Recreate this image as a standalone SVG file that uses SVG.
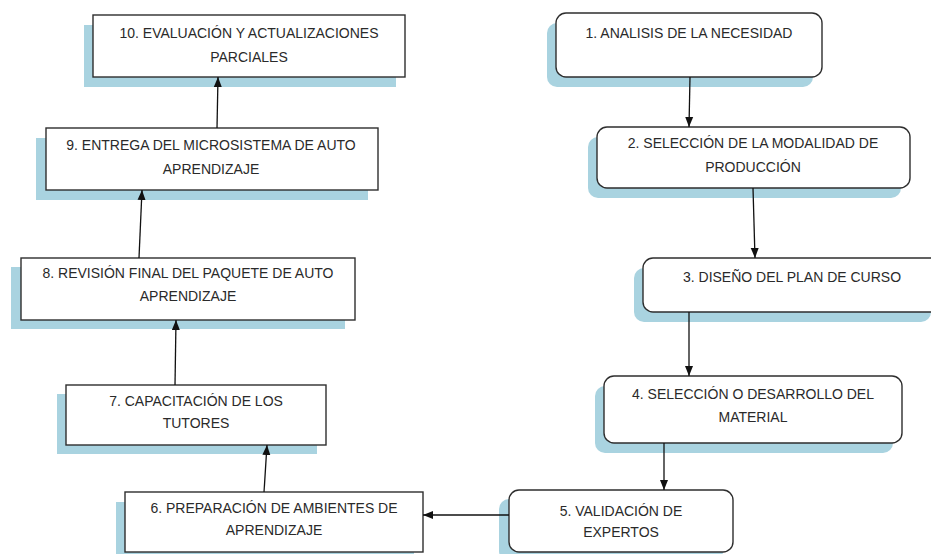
<svg xmlns="http://www.w3.org/2000/svg" width="931" height="554" viewBox="0 0 931 554">
<style>
.sh{fill:#a9d3e0;stroke:none}
.bx{fill:#fff;stroke:#2e2e2e;stroke-width:1.4}
.t{font-family:"Liberation Sans",Arial,sans-serif;font-size:14px;fill:#2a2a2a;text-anchor:middle}
.c{stroke:#111;stroke-width:1.3;fill:none;marker-end:url(#ah)}
</style>
<defs>
<marker id="ah" markerUnits="userSpaceOnUse" markerWidth="10" markerHeight="10" viewBox="0 0 10 10" refX="10" refY="5" orient="auto">
<path d="M0,1 L10,5 L0,9 Z" fill="#111"/>
</marker>
</defs>
<rect width="931" height="554" fill="#fff"/>
<g id="n10">
<rect class="sh" x="84" y="25" width="312" height="62"/>
<rect class="bx" x="93" y="15" width="312" height="62"/>
<text class="t" x="249" y="38">10. EVALUACIÓN Y ACTUALIZACIONES</text>
<text class="t" x="249" y="62">PARCIALES</text>
</g>
<g id="n9">
<rect class="sh" x="36" y="138" width="332" height="62"/>
<rect class="bx" x="46" y="128" width="332" height="62"/>
<text class="t" x="211" y="150">9. ENTREGA DEL MICROSISTEMA DE AUTO</text>
<text class="t" x="211" y="174">APRENDIZAJE</text>
</g>
<g id="n8">
<rect class="sh" x="11" y="267" width="334" height="62"/>
<rect class="bx" x="21" y="258" width="334" height="62"/>
<text class="t" x="188" y="278">8. REVISIÓN FINAL DEL PAQUETE DE AUTO</text>
<text class="t" x="188" y="301">APRENDIZAJE</text>
</g>
<g id="n7">
<rect class="sh" x="57" y="394" width="260" height="60"/>
<rect class="bx" x="66" y="385" width="260" height="60"/>
<text class="t" x="196" y="406">7. CAPACITACIÓN DE LOS</text>
<text class="t" x="196" y="428">TUTORES</text>
</g>
<g id="n6">
<rect class="sh" x="116" y="502" width="298" height="60"/>
<rect class="bx" x="125" y="492" width="298" height="60"/>
<text class="t" x="274" y="513">6. PREPARACIÓN DE AMBIENTES DE</text>
<text class="t" x="274" y="535">APRENDIZAJE</text>
</g>
<g id="n5">
<rect class="sh" x="499" y="499" width="224" height="62" rx="10"/>
<rect class="bx" x="509" y="490" width="224" height="62" rx="10"/>
<text class="t" x="621" y="516">5. VALIDACIÓN DE</text>
<text class="t" x="621" y="537">EXPERTOS</text>
</g>
<g id="n4">
<rect class="sh" x="595" y="386" width="298" height="67" rx="10"/>
<rect class="bx" x="604" y="376" width="298" height="67" rx="10"/>
<text class="t" x="753" y="399">4. SELECCIÓN O DESARROLLO DEL</text>
<text class="t" x="753" y="422">MATERIAL</text>
</g>
<g id="n3">
<rect class="sh" x="634" y="268" width="297" height="54" rx="10"/>
<rect class="bx" x="643" y="258" width="297" height="54" rx="10"/>
<text class="t" x="792" y="282">3. DISEÑO DEL PLAN DE CURSO</text>
</g>
<g id="n2">
<rect class="sh" x="588" y="137" width="313" height="61" rx="10"/>
<rect class="bx" x="597" y="127" width="313" height="61" rx="10"/>
<text class="t" x="753" y="148">2. SELECCIÓN DE LA MODALIDAD DE</text>
<text class="t" x="753" y="172">PRODUCCIÓN</text>
</g>
<g id="n1">
<rect class="sh" x="547" y="23" width="266" height="64" rx="10"/>
<rect class="bx" x="556" y="13" width="266" height="64" rx="10"/>
<text class="t" x="689" y="38">1. ANALISIS DE LA NECESIDAD</text>
</g>
<g id="connectors">
<path class="c" d="M690,77 L689,127"/>
<path class="c" d="M753,188 L755,258"/>
<path class="c" d="M689,312 L689,376"/>
<path class="c" d="M664,443 L664,490"/>
<path class="c" d="M509,515 L423,515"/>
<path class="c" d="M264,492 L267,445"/>
<path class="c" d="M175,385 L176,320"/>
<path class="c" d="M139,258 L142,190"/>
<path class="c" d="M217,128 L218,77"/>
</g>
</svg>
